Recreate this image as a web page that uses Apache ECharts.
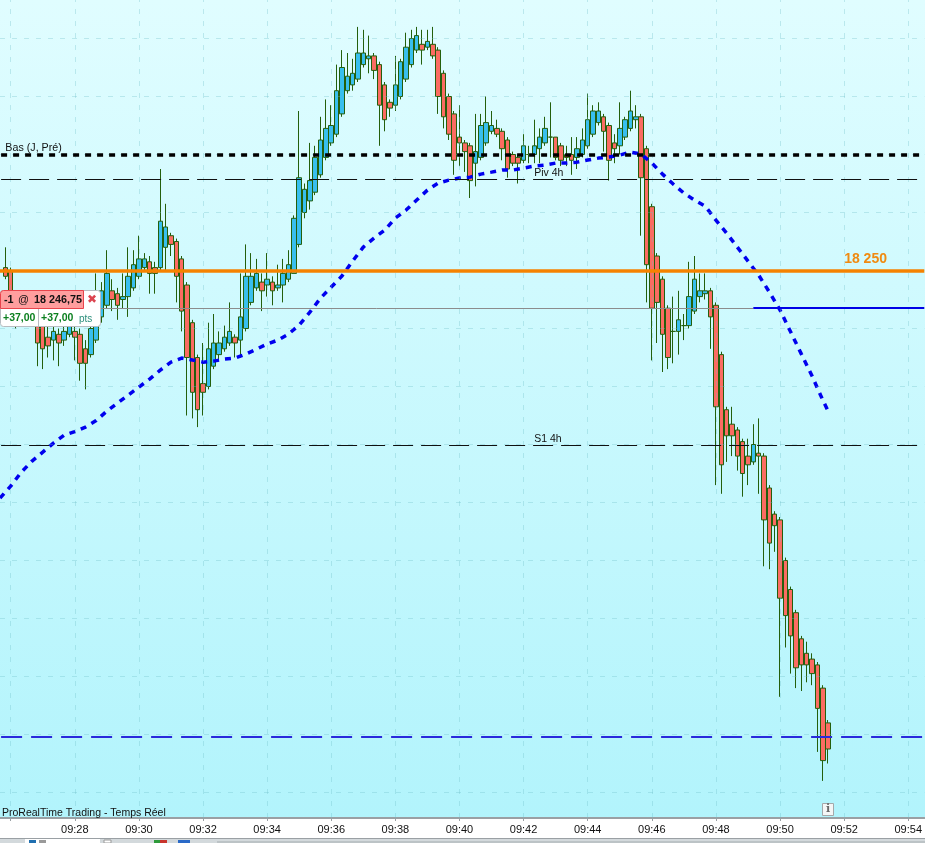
<!DOCTYPE html>
<html><head><meta charset="utf-8">
<style>html,body{margin:0;padding:0;background:#fff}#c{width:925px;height:843px}</style>
<script src="https://cdn.jsdelivr.net/npm/echarts@6/dist/echarts.min.js"></script>
</head><body><div id="c"></div>
<script>
// 10-second candles, one per category starting 09:25:50
const opens=[18250.25,18250,18247,18246,18246.5,18246,18246.5,18245.5,18244.25,18244,
18244.5,18244,18244.5,18244.75,18244.5,18243.25,18242.75,18244,18246,18247,
18248.25,18248,18247.5,18247.75,18248.5,18249.5,18250.25,18250.75,18250.25,18250.25,
18252,18253,18252.5,18251,18248.75,18245.5,18242.5,18240.25,18240,18241.75,
18242.75,18243.25,18243.75,18244.25,18244,18245,18247.25,18248.5,18249,18248.75,
18249,18248.5,18248.75,18249.25,18249.75,18252.25,18255,18256,18256.75,18258.25,
18259.75,18261,18261.75,18263.5,18265.5,18266,18266.5,18267.75,18268.25,18268.5,
18267.75,18266,18264.5,18264.25,18265,18266.5,18267.75,18269,18269.5,18269.25,
18269.5,18269,18267,18265,18263.5,18261.5,18261,18260.75,18259.25,18259.75,
18261,18262,18262.25,18262,18261.25,18260,18259.75,18259.5,18260,18260,
18260.5,18261,18261.5,18261.5,18260.75,18260,18260,18259.75,18260,18260.75,
18261.75,18262.75,18263.25,18262.5,18261,18260.75,18261.5,18262.25,18263,18263.25,
18260.5,18255.5,18251.25,18249.25,18246.75,18244.75,18244.75,18245.25,18245.25,18246.5,
18247.75,18248,18248.25,18247,18242.75,18238,18236.75,18236.25,18235.25,18234,
18233.5,18234.25,18234,18231.25,18229,18228.5,18225,18222.5,18220.5,18218.25,
18217,18216.5,18216,18214,18211];
const closes=[18249.5,18247,18246,18246.5,18246,18246.5,18243.75,18243.25,18243.5,18244.75,
18243.75,18244.75,18245.25,18244.25,18242,18242,18245,18247,18248.25,18249.75,
18247.5,18247,18247.75,18249.5,18250.5,18251,18251,18249.75,18249.75,18254.25,
18253.75,18252.25,18249.5,18246.5,18242.5,18239.5,18238,18239.5,18243.25,18243.75,
18243.75,18244.25,18244.75,18243.75,18246,18249.5,18249.5,18249.75,18248.25,18249.25,
18248.25,18248.75,18249.75,18250.5,18254.5,18258,18257,18257.75,18259.75,18261.25,
18262.25,18262.5,18265.5,18267.5,18266.75,18267,18268.75,18268.75,18268.5,18267.25,
18264.25,18263,18264,18266,18268,18269.25,18270,18270.25,18269,18269.75,
18268.5,18265,18263.25,18261.75,18259.5,18261,18260.25,18257.75,18260.25,18262.5,
18262.75,18262.5,18261.75,18260.5,18258.75,18259.25,18259.25,18260.75,18260,18260.75,
18261.5,18262.25,18261.5,18259.75,18259.5,18259.75,18259.5,18260.5,18261.25,18263,
18263.75,18263.75,18262,18259.5,18260.5,18262.25,18263,18263.75,18263.25,18258,
18250.5,18246.75,18247.25,18244.5,18242.5,18244.75,18245.75,18245.25,18247.75,18249.25,
18248.25,18248.25,18246,18238.25,18233.25,18235.75,18235.75,18234,18232.5,18233.25,
18235,18234,18228.5,18226.5,18228,18221.75,18220.25,18218.5,18215.75,18216,
18216,18215.25,18212.25,18207.75,18208.75];
const highs=[18252,18250.25,18247.5,18247.25,18247.5,18247,18247,18246.5,18245.25,18245.25,
18245,18245.5,18246,18245.25,18245,18244,18245.5,18249.75,18249,18251.75,
18249.25,18248.5,18249.75,18252,18251.75,18253,18251.5,18251.25,18250.75,18258.75,
18255.75,18253.25,18252.75,18251.25,18249,18245.75,18242.75,18243.75,18245.5,18246.25,
18244.75,18245.25,18247.25,18244.5,18249.75,18252.25,18251.5,18251,18249.75,18251.5,
18249.5,18250.5,18251,18251.75,18254.75,18263.75,18257.5,18261,18260.75,18263.25,
18264.75,18264.25,18267.75,18269,18268.75,18268.25,18271,18270.75,18270.25,18268.75,
18268,18266.25,18264.75,18268.5,18268.25,18270.5,18270.75,18271,18270.75,18270.75,
18271,18269.25,18267.25,18265.25,18263.75,18264.25,18261.25,18261,18263.5,18263.5,
18265,18263.75,18263,18262.25,18261.5,18260.25,18260,18261.75,18260.75,18263,
18262.25,18263.25,18264.5,18261.5,18261,18260.75,18261.5,18261.5,18262.25,18265.25,
18264.25,18264.5,18263.5,18262.75,18261.75,18264.5,18263.25,18265.5,18264.25,18263.5,
18260.75,18255.75,18251.5,18249.5,18247,18247.75,18248.25,18246.25,18250.75,18251.25,
18249.75,18249.75,18248.5,18247.25,18243,18238.25,18238.25,18236.5,18235.5,18235.5,
18236.75,18237.25,18234.25,18231.5,18229.25,18228.75,18225.25,18222.75,18220.75,18218.5,
18218,18217,18216.25,18214.25,18211.25];
const lows=[18249.25,18246.5,18245,18245.5,18245.5,18245.25,18241.75,18241.5,18242.5,18242.25,
18241.75,18243.5,18244.25,18242.25,18240.5,18239.75,18242.5,18243.75,18245.5,18246.75,
18246.5,18245.75,18246.75,18246,18248.25,18249.25,18250,18248,18248,18250,
18250,18251.25,18247.25,18244.75,18237.5,18237.25,18236.5,18237.5,18239.75,18241.5,
18242.25,18243,18243.5,18242.5,18242.5,18244.75,18247,18248.25,18246.5,18247.75,
18247,18248.25,18247.25,18249,18249.75,18252,18254.5,18255.25,18256.5,18258,
18259.5,18260.75,18261.5,18263.25,18265.25,18265.5,18266.25,18267.5,18267,18266.5,
18260.75,18262,18263.25,18263.75,18264.75,18266.25,18267.5,18268.75,18267.75,18269,
18268.25,18263.5,18262.25,18261.25,18258.25,18259,18258.5,18256.25,18257.25,18259.5,
18260.75,18261.75,18261.5,18259.5,18258,18259,18257.5,18259.25,18259.25,18259.25,
18259.25,18260.75,18259.75,18259.5,18259,18259,18258.25,18258.75,18259.75,18260.5,
18261.5,18262.5,18260.25,18257.75,18259.25,18260,18261.25,18262,18262.25,18253,
18247.25,18242.25,18243.75,18241.25,18241.5,18242,18242.75,18244,18245,18246.25,
18247.25,18247.5,18243.25,18231.5,18230.75,18233.5,18234,18232.75,18230.5,18231.5,
18233.25,18230.75,18224.5,18224.25,18225.75,18213.25,18217.5,18215.25,18214,18213.75,
18214.5,18214.25,18208.5,18206,18207.5];
// moving average read every second category, then its last point
const maValues=[18230.38,18231.41,18232.62,18233.57,18234.34,18235.12,18235.81,18236.11,18236.50,18237.06,
18237.88,18238.57,18239.26,18239.95,18240.64,18241.41,18242.10,18242.45,18242.28,18242.10,
18242.19,18242.36,18242.45,18242.79,18243.22,18243.66,18244.00,18244.52,18245.30,18246.41,
18247.62,18248.57,18249.52,18250.81,18252.02,18252.79,18253.48,18254.52,18255.21,18256.07,
18256.93,18257.53,18257.79,18257.97,18258.05,18258.31,18258.48,18258.66,18258.66,18258.83,
18259.00,18259.09,18259.26,18259.26,18259.34,18259.52,18259.69,18259.78,18259.95,18260.21,
18260.03,18259.26,18258.31,18257.45,18256.67,18256.07,18255.55,18254.34,18253.22,18252.02,
18250.81,18249.60,18248.14,18246.59,18244.69,18242.79,18240.90,18238.83];
const maLast=18237.88;
const tickTimes=['09:26','09:28','09:30','09:32','09:34','09:36','09:38','09:40','09:42','09:44','09:46','09:48','09:50','09:52','09:54'];
const tickLabels=['09:28','09:30','09:32','09:34','09:36','09:38','09:40','09:42','09:44','09:46','09:48','09:50','09:52','09:54'];
const gridPrices=[18270,18265,18260,18255,18250,18245,18240,18235,18230,18225,18220,18215,18210,18205];
const levelBas=18260, levelPiv=18257.84, levelS1=18234.9, levelOrange=18250, levelEntry=18246.75, levelStop=18209.78;
const priceLabels=[{t:'Bas (J, Pré)',j:1,v:18260.55,s:10.7},{t:'Piv 4h',j:100,v:18258.4,s:10.5},{t:'S1 4h',j:100,v:18235.47,s:10.5}];
const orangeLabel={t:'18 250',j:158,v:18251.0};

const categories=[];
for(let s=9*3600+25*60+40,k=0;k<174;k++,s+=10){
  const p=n=>String(n).padStart(2,'0');
  categories.push(p(Math.floor(s/3600))+':'+p(Math.floor(s/60)%60)+':'+p(s%60));
}
const isTick=(i,v)=>v.endsWith(':00')&&tickTimes.includes(v.slice(0,5));
const candleData=[['-','-','-','-']].concat(opens.map((o,i)=>[o,closes[i],lows[i],highs[i]]));
const maData=maValues.map((v,k)=>[categories[k*2],v]);
maData.push([categories[opens.length],maLast]);
const FONT='"Liberation Sans",Arial,sans-serif';
const blackTxt='#111111';
const hl=(v,color,width,type,offset)=>({yAxis:v,lineStyle:{color,width,type,dashOffset:offset||0,opacity:1}});

const chart=echarts.init(document.getElementById('c'),null,{renderer:'canvas'});
chart.setOption({
  animation:false,
  grid:{left:-1.1,width:926.1,top:0,height:818,containLabel:false},
  xAxis:{type:'category',boundaryGap:false,data:categories,
    axisLine:{show:true,onZero:false,lineStyle:{color:'#9aa0a4',width:2}},
    axisTick:{show:true,interval:isTick,length:3,lineStyle:{color:'#9aa0a4'}},
    axisLabel:{interval:isTick,showMinLabel:true,showMaxLabel:true,hideOverlap:false,margin:6,
      color:'#111',fontFamily:FONT,fontSize:11,
      formatter:v=>tickLabels.includes(v.slice(0,5))?v.slice(0,5):''},
    splitLine:{show:false}},
  yAxis:{type:'value',min:18202.802,max:18273.319,show:false,splitLine:{show:false}},
  graphic:[
    {type:'rect',z:-5,shape:{x:0,y:0,width:925,height:819},silent:true,
      style:{fill:new echarts.graphic.LinearGradient(0,0,0,1,[{offset:0,color:'#e0fdff'},{offset:1,color:'#b2f4fc'}])}},
    {type:'rect',z:-5,shape:{x:0,y:819,width:925,height:19},style:{fill:'#ffffff'}},
    {type:'rect',z:50,shape:{x:0,y:838,width:925,height:5},style:{fill:'#d3d9dc'}},
    {type:'rect',z:51,shape:{x:0,y:838,width:925,height:1},style:{fill:'#9aa0a4'}},
    {type:'rect',z:51,shape:{x:25,y:839,width:75,height:4},style:{fill:'#ffffff'}},
    {type:'rect',z:52,shape:{x:29,y:840,width:7,height:3},style:{fill:'#1f6fb0'}},
    {type:'rect',z:52,shape:{x:39,y:840,width:7,height:3},style:{fill:'#9a9a9a'}},
    {type:'rect',z:52,shape:{x:104,y:840,width:7,height:3},style:{fill:'#ffffff',stroke:'#999'}},
    {type:'rect',z:52,shape:{x:154,y:840,width:6,height:3},style:{fill:'#2e9a3a'}},
    {type:'rect',z:52,shape:{x:160,y:840,width:7,height:3},style:{fill:'#c8342c'}},
    {type:'rect',z:52,shape:{x:178,y:840,width:12,height:3},style:{fill:'#2a6ac8'}},
    {type:'rect',z:52,shape:{x:217,y:841,width:708,height:2},style:{fill:'#bcc3c6'}},
    {type:'text',z:20,style:{x:2,y:807.5,text:'ProRealTime Trading - Temps Réel',fill:blackTxt,font:'10.5px '+FONT}},
    {type:'rect',z:20,shape:{x:822.5,y:803.5,width:11,height:12},style:{fill:'#f4f6f6',stroke:'#a4a8aa',lineWidth:1}},
    {type:'text',z:21,style:{x:828,y:809.5,text:'i',fill:'#6a6a6a',font:'bold 11px "DejaVu Serif",serif',align:'center',verticalAlign:'middle'}},
    // position box
    {type:'rect',z:100,shape:{x:0.5,y:290.5,width:100,height:36,r:3},style:{fill:'#ffffff',stroke:'#b8bcc0',lineWidth:1}},
    {type:'rect',z:101,shape:{x:0.5,y:290.5,width:83,height:18,r:[3,0,0,0]},style:{fill:'#ff9e9e',stroke:'#e8444c',lineWidth:1}},
    {type:'rect',z:101,shape:{x:38,y:309,width:1,height:17},style:{fill:'#b8bcc0'}},
    {type:'text',z:102,style:{x:4,y:300,text:'-1',fill:'#111',font:'bold 10.8px '+FONT,verticalAlign:'middle'}},
    {type:'text',z:102,style:{x:18,y:300,text:'@',fill:'#111',font:'10.8px '+FONT,verticalAlign:'middle'}},
    {type:'text',z:102,style:{x:34,y:300,text:'18 246,75',fill:'#111',font:'bold 10.8px '+FONT,verticalAlign:'middle'}},
    {type:'text',z:102,style:{x:92,y:300,text:'✖',fill:'#dc4450',font:'bold 12px "DejaVu Sans",sans-serif',align:'center',verticalAlign:'middle'}},
    {type:'text',z:102,style:{x:3,y:318,text:'+37,00',fill:'#0b7f1e',font:'bold 10.5px '+FONT,verticalAlign:'middle'}},
    {type:'text',z:102,style:{x:41,y:318,text:'+37,00',fill:'#0b7f1e',font:'bold 10.5px '+FONT,verticalAlign:'middle'}},
    {type:'text',z:102,style:{x:79,y:319,text:'pts',fill:'#2c8f7c',font:'10px '+FONT,verticalAlign:'middle'}}
  ],
  series:[
    {type:'line',name:'grid',data:[],z:1,silent:true,
      markLine:{silent:true,symbol:'none',label:{show:false},animation:false,
        data:gridPrices.map(v=>({yAxis:v})).concat(categories.filter((c,i)=>isTick(i,c)).map(c=>({xAxis:c}))),
        lineStyle:{color:'rgba(110,190,200,0.32)',width:1,type:[5,7]}}},
    {type:'candlestick',name:'Prix',data:candleData,barWidth:5,z:2,silent:true,
      itemStyle:{color:'#38bfee',color0:'#fb6c62',borderColor:'#245f0c',borderColor0:'#245f0c',borderColorDoji:'#245f0c',borderWidth:1}},
    {type:'line',name:'Niveaux',data:[],z:3,silent:true,
      markLine:{silent:true,symbol:'none',label:{show:false},animation:false,data:[
        hl(levelPiv,'#101010',1,[20,8],-1.1),
        hl(levelS1,'#101010',1,[20,8],-1.1),
        hl(levelBas,'#000000',3.5,[6,6],-1.1),
        [{coord:[categories[0],levelEntry],lineStyle:{color:'#8c8c8c',width:1,type:'solid'}},{coord:[categories[141],levelEntry]}],
        [{coord:[categories[141],levelEntry],lineStyle:{color:'#0000e6',width:2,type:'solid'}},{coord:[categories[173],levelEntry]}],
        hl(levelStop,'#2a2adc',2,[21,9],-1.1),
        hl(levelOrange,'#f58200',3.5,'solid')
      ]}},
    {type:'line',name:'MA',data:maData,z:4,symbol:'none',smooth:false,silent:true,
      lineStyle:{color:'#0000ee',width:3.5,type:[6,6]}},
    {type:'scatter',name:'Etiquettes',z:5,symbolSize:0,silent:true,itemStyle:{opacity:1},
      data:priceLabels.map(l=>({value:[categories[l.j],l.v],label:{formatter:l.t,fontSize:l.s}})),
      label:{show:true,position:'right',distance:0,color:blackTxt,fontFamily:FONT,opacity:1}},
    {type:'scatter',name:'Etiquette orange',z:5,symbolSize:0,silent:true,itemStyle:{opacity:1},
      data:[{value:[categories[orangeLabel.j],orangeLabel.v],label:{formatter:orangeLabel.t}}],
      label:{show:true,position:'right',distance:0,color:'#f08a10',fontFamily:FONT,fontSize:14,fontWeight:'bold',opacity:1}}
  ]
});
</script></body></html>
